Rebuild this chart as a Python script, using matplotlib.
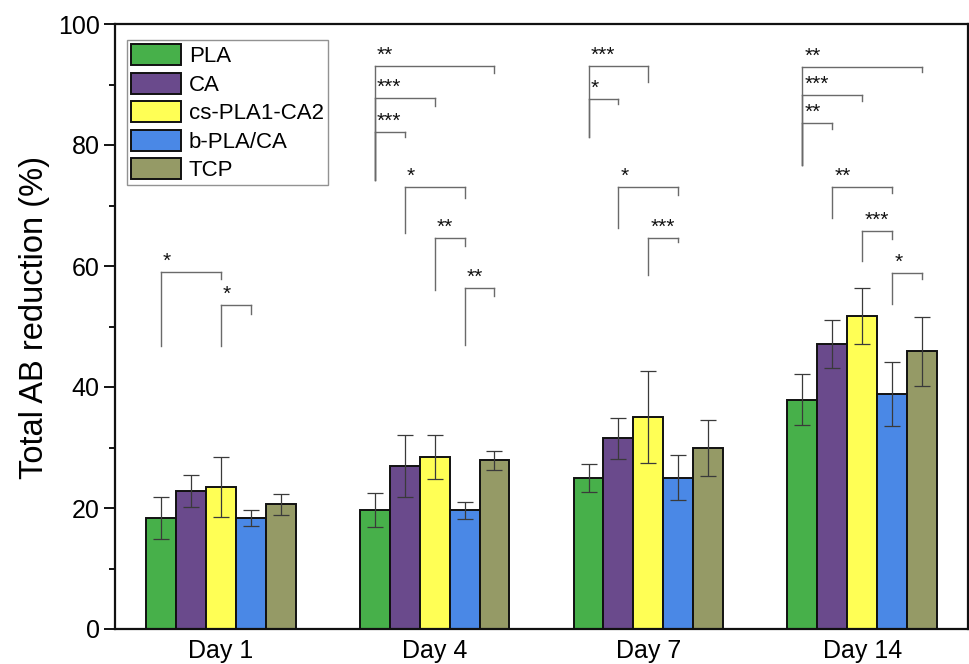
import matplotlib
matplotlib.use("Agg")
import matplotlib.pyplot as plt
import numpy as np
from matplotlib.ticker import MultipleLocator

plt.rcParams['font.family'] = ['Liberation Sans', 'DejaVu Sans']

days = ["Day 1", "Day 4", "Day 7", "Day 14"]
groups = ["PLA", "CA", "cs-PLA1-CA2", "b-PLA/CA", "TCP"]
colors = ["#47B04A", "#6A4A8C", "#FFFF55", "#4A88E6", "#959A66"]

PLA = [18.3, 19.6, 25.0, 37.9]
CA = [22.8, 26.9, 31.5, 47.1]
csPLA = [23.5, 28.4, 35.0, 51.7]
bPLA = [18.3, 19.6, 25.0, 38.8]
TCP = [20.6, 27.9, 29.9, 45.9]

PLA_err = [3.5, 2.8, 2.3, 4.2]
CA_err = [2.7, 5.1, 3.4, 4.0]
csPLA_err = [5.0, 3.6, 7.6, 4.6]
bPLA_err = [1.3, 1.4, 3.7, 5.3]
TCP_err = [1.7, 1.6, 4.6, 5.7]

values = [PLA, CA, csPLA, bPLA, TCP]
errors = [PLA_err, CA_err, csPLA_err, bPLA_err, TCP_err]

# significance brackets: (day index, bar a, bar b, line level, left leg end, right leg end, label)
brackets = [
    (0, 0, 2, 59.0, 46.7, 57.9, '*'),
    (0, 2, 3, 53.6, 46.7, 52.1, '*'),
    (1, 0, 4, 93.0, 74.2, 91.9, '**'),
    (1, 0, 2, 87.7, 74.2, 86.4, '***'),
    (1, 0, 1, 82.1, 74.2, 81.3, '***'),
    (1, 1, 3, 73.0, 65.5, 71.3, '*'),
    (1, 2, 3, 64.6, 56.0, 63.3, '**'),
    (1, 3, 4, 56.4, 46.9, 55.0, '**'),
    (2, 0, 2, 93.0, 81.4, 90.4, '***'),
    (2, 0, 1, 87.6, 81.4, 86.7, '*'),
    (2, 1, 3, 73.0, 66.2, 71.8, '*'),
    (2, 2, 3, 64.6, 58.5, 64.0, '***'),
    (3, 0, 4, 92.9, 76.7, 92.1, '**'),
    (3, 0, 2, 88.2, 76.7, 87.2, '***'),
    (3, 0, 1, 83.7, 76.7, 82.7, '**'),
    (3, 1, 3, 73.0, 68.0, 72.1, '**'),
    (3, 2, 3, 65.8, 60.9, 64.4, '***'),
    (3, 3, 4, 58.8, 53.8, 57.8, '*'),
]

fig = plt.figure(figsize=(9.7, 6.64), dpi=100)
ax = fig.add_axes([115/970, 35/664, 853/970, 605/664])

x = np.arange(len(days))
w = 0.14
for i, (g, vals, errs, c) in enumerate(zip(groups, values, errors, colors)):
    pos = x + (i - 2) * w
    ax.bar(pos, vals, width=w, color=c, edgecolor='#111111', linewidth=1.4, label=g, zorder=2)
    ax.errorbar(pos, vals, yerr=errs, fmt='none', ecolor='#3a3a3a', elinewidth=0.9,
                capsize=5.5, capthick=0.9, zorder=3)

lc = '#6a6a6a'
for d, a, b, yl, ylb, yrb, lab in brackets:
    xa = d + (a - 2) * w
    xb = d + (b - 2) * w
    ax.plot([xa, xb], [yl, yl], color=lc, lw=1.0, zorder=3)
    ax.plot([xa, xa], [ylb, yl], color=lc, lw=1.0, zorder=3)
    ax.plot([xb, xb], [yrb, yl], color=lc, lw=1.0, zorder=3)
    ax.text(xa + 0.01, yl + 0.2, lab, ha='left', va='bottom', fontsize=15, color='#111111')

ax.set_xlim(-0.495, 3.495)
ax.set_ylim(0, 100)
ax.set_xticks(x)
ax.set_xticklabels(days, fontsize=18)
ax.tick_params(axis='x', length=0, pad=7)
ax.yaxis.set_major_locator(MultipleLocator(20))
ax.yaxis.set_minor_locator(MultipleLocator(10))
ax.tick_params(axis='y', which='major', direction='out', length=8, width=1.3, labelsize=18, pad=3)
ax.tick_params(axis='y', which='minor', direction='out', length=4.5, width=1.3)
ax.set_ylabel("Total AB reduction (%)", fontsize=23.5)
ax.yaxis.set_label_coords(-0.076, 0.515)
for s in ax.spines.values():
    s.set_linewidth(1.6)
    s.set_color('#111111')

leg = ax.legend(loc='upper left', bbox_to_anchor=(0.014, 0.973), fontsize=16, frameon=True,
                fancybox=False, edgecolor='#777777', handlelength=2.25, handleheight=1.08,
                handletextpad=0.35, labelspacing=0.24, borderpad=0.18, borderaxespad=0)
leg.get_frame().set_linewidth(1.0)

fig.savefig("out.png", dpi=100)
